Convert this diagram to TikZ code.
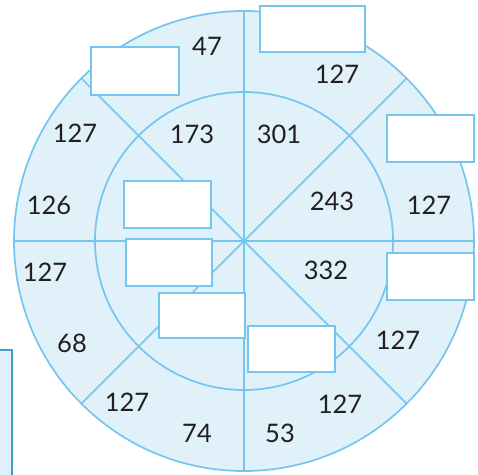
\documentclass[tikz,border=0pt]{standalone}
\usepackage{fontspec}
\setmainfont{Lato}
\definecolor{lineblue}{HTML}{74C6EE}
\definecolor{fillblue}{HTML}{E1F1FA}
\definecolor{darkblue}{HTML}{3A9FD0}
\definecolor{numgray}{HTML}{231F20}
\tikzset{
  ring/.style={circle, draw=lineblue, line width=1.7pt, inner sep=0pt},
  spoke/.style={draw=lineblue, line width=1.7pt},
  answerbox/.style={rectangle, draw=lineblue, fill=white, line width=2.4pt, inner sep=0pt},
  num/.style={text=numgray, font=\fontsize{25.5}{25.5}\selectfont, inner sep=0pt}
}
\begin{document}
\begin{tikzpicture}[x=1pt,y=-1pt]
\useasboundingbox (0,0) rectangle (478,474);
% partial box bottom-left
\node[draw=darkblue, fill=fillblue, line width=2.2pt, minimum width=40pt, minimum height=140pt, inner sep=0pt, anchor=north east] (side) at (13,349) {};
% circles
\node[ring, fill=fillblue, minimum size=460pt] (outer) at (244,241) {};
\node[ring, minimum size=298pt] (inner) at (244,241) {};
% spokes
\draw[spoke] (outer.north) -- (outer.south);
\draw[spoke] (outer.west) -- (outer.east);
\draw[spoke] (outer.north west) -- (outer.south east);
\draw[spoke] (outer.north east) -- (outer.south west);
% answer boxes
\node[answerbox, minimum width=88pt, minimum height=48pt] (bA) at (135,71) {};
\node[answerbox, minimum width=105pt, minimum height=46pt] (bB) at (312.5,29) {};
\node[answerbox, minimum width=87pt, minimum height=47pt] (bC) at (430.5,138.5) {};
\node[answerbox, minimum width=87pt, minimum height=47pt] (bD) at (167.5,204.5) {};
\node[answerbox, minimum width=86pt, minimum height=47pt] (bE) at (169,262.5) {};
\node[answerbox, minimum width=86pt, minimum height=45pt] (bF) at (202,315.5) {};
\node[answerbox, minimum width=87pt, minimum height=46pt] (bG) at (291.5,349) {};
\node[answerbox, minimum width=87pt, minimum height=47pt] (bH) at (430.5,276.5) {};
% numbers
\node[num] (n47) at (207,46) {47};
\node[num] (n127a) at (337,74) {127};
\node[num] (n127b) at (75,133) {127};
\node[num] (n173) at (192,134) {173};
\node[num] (n301) at (279,134) {301};
\node[num] (n126) at (49,205) {126};
\node[num] (n243) at (332,201) {243};
\node[num] (n127c) at (429,205) {127};
\node[num] (n127d) at (45,272) {127};
\node[num] (n332) at (326,270) {332};
\node[num] (n68) at (72,343) {68};
\node[num] (n127e) at (398,340) {127};
\node[num] (n127f) at (127,402) {127};
\node[num] (n127g) at (340,404) {127};
\node[num] (n74) at (197,433) {74};
\node[num] (n53) at (280,433) {53};
\end{tikzpicture}
\end{document}
